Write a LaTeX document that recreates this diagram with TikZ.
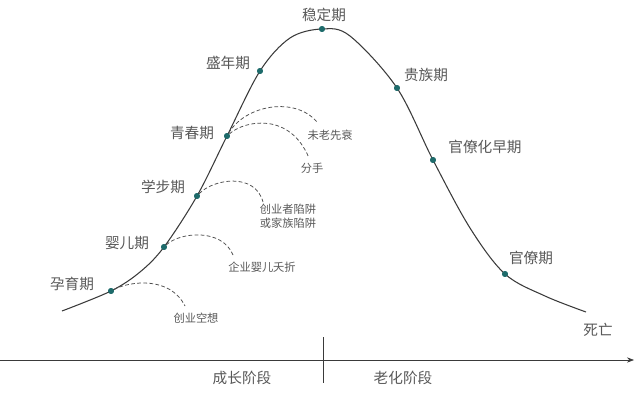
\documentclass[tikz,border=0pt]{standalone}
\usepackage{fontspec}
\setmainfont{Noto Sans CJK SC}
\usepackage{xcolor}
\usetikzlibrary{arrows.meta,positioning,calc}
\definecolor{curvegray}{HTML}{3A3A3A}
\definecolor{textgray}{HTML}{585858}
\definecolor{dotteal}{HTML}{1E6B6B}
\tikzset{
  dot/.style={circle,fill=dotteal,minimum size=5pt,inner sep=0pt},
  lab/.style={text=textgray,font=\fontsize{12.5}{14}\selectfont},
  note/.style={text=textgray,font=\fontsize{9.6}{12}\selectfont,align=center},
  trap/.style={draw=curvegray!90,dash pattern=on 3.2pt off 2pt,line width=0.65pt},
}

\begin{document}
\begin{tikzpicture}[x=0.03cm,y=-0.03cm]
  \useasboundingbox (0,0) rectangle (640,396);
  % points on the curve
  \coordinate (s) at (62,311);
  \coordinate (e) at (586,312);
  \node[dot] (yun) at (111,291){};
  \node[dot] (ying) at (164,247){};
  \node[dot] (xue) at (197,196){};
  \node[dot] (qing) at (227,136){};
  \node[dot] (sheng) at (260,71){};
  \node[dot] (wen) at (322,29){};
  \node[dot] (gui) at (397,88){};
  \node[dot] (guanz) at (433,160){};
  \node[dot] (guan) at (505,274){};
  \draw[curvegray,line width=0.9pt] plot[smooth,tension=0.55] coordinates{
    (62,311) (111,291) (140,272) (164,247) (197,196) (227,136) (260,71)
    (290,38) (322,29) (350,36) (397,88) (433,160) (470,228) (505,274) (545,296) (586,312)};
  \foreach \n in {yun,ying,xue,qing,sheng,wen,gui,guanz,guan}
    \node[dot] at (\n){};
  % stage labels
  \node[lab] (lyun) at (72,284){孕育期};
  \node[lab] (lying) at (127,243){婴儿期};
  \node[lab] (lxue) at (163,187){学步期};
  \node[lab] (lqing) at (192,133){青春期};
  \node[lab] (lsheng) at (228,63){盛年期};
  \node[lab] (lwen) at (324,15){稳定期};
  \node[lab] (lgui) at (426,75){贵族期};
  \node[lab] (lguanz) at (485,147){官僚化早期};
  \node[lab] (lguan) at (531,258){官僚期};
  \node[lab] (lsi) at (598,330){死亡};
  % traps
  \draw[trap] (yun) .. controls (130,281) and (170,276) .. (185,306);
  \draw[trap] (ying) .. controls (180,232) and (222,228) .. (233,255);
  \draw[trap] (xue) .. controls (213,179) and (255,172) .. (263,202);
  \draw[trap] (qing) .. controls (245,105) and (295,96) .. (317,122);
  \draw[trap] (qing) .. controls (245,120) and (290,112) .. (309,158);
  \node[note] (tyun) at (196,318){创业空想};
  \node[note] (tying) at (262,267){企业婴儿夭折};
  \node[note] (txue) at (288,216){创业者陷阱\\或家族陷阱};
  \node[note] (tqa) at (330,135){未老先衰};
  \node[note] (tqb) at (312,168){分手};
  % axis
  \coordinate (o) at (0,360);
  \coordinate (oe) at (634,360);
  \coordinate (d1) at (323,337);
  \coordinate (d2) at (323,383);
  \draw[curvegray,line width=0.6pt,-{Stealth[length=6pt,width=4.5pt]}] (o) -- (oe);
  \draw[curvegray,line width=0.6pt] (d1) -- (d2);
  \node[lab] (grow) at (242,378){成长阶段};
  \node[lab] (old) at (403,378){老化阶段};
\end{tikzpicture}
\end{document}
